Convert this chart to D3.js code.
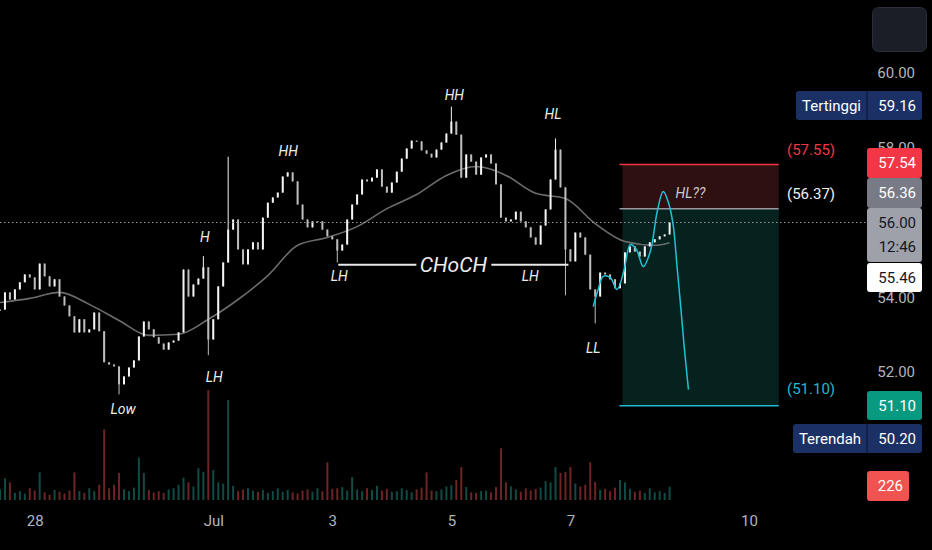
<!DOCTYPE html>
<html>
<head>
<meta charset="utf-8">
<script src="https://cdn.jsdelivr.net/npm/d3@7"></script>
<style>
  html, body { margin: 0; padding: 0; background: #000; }
  svg { display: block; font-family: Roboto, "Noto Sans", sans-serif; }
</style>
</head>
<body>
<div id="chart"></div>
<script>
// 2-hour bars, first bar 27 Jun 10:00
var closes = [
  53.67, 54.13, 53.94, 54.21, 54.40, 54.61, 54.53, 54.21, 54.90, 54.56,
  54.29, 54.48, 54.02, 53.78, 53.49, 53.06, 53.41, 53.06, 53.14, 53.59,
  53.09, 52.26, 52.20, 52.15, 51.67, 51.88, 52.12, 52.31, 52.95, 53.35,
  53.14, 52.93, 52.76, 52.60, 52.79, 52.84, 53.06, 54.74, 54.02, 54.34,
  54.50, 54.80, 52.87, 53.41, 54.29, 54.93, 55.81, 56.08, 55.28, 54.88,
  55.28, 55.47, 55.28, 56.13, 56.53, 56.67, 56.80, 57.23, 57.34, 57.10,
  56.48, 56.08, 55.87, 56.03, 56.03, 55.81, 55.63, 55.55, 55.25, 55.41,
  56.08, 56.48, 56.75, 57.15, 57.10, 57.20, 57.42, 56.96, 56.80, 57.07,
  57.36, 57.71, 57.98, 58.19, 58.17, 57.93, 57.84, 57.74, 57.95, 58.14,
  58.38, 58.70, 58.35, 57.20, 57.82, 57.63, 57.28, 57.74, 57.82, 57.58,
  57.02, 56.13, 56.03, 56.08, 56.29, 56.03, 55.87, 55.60, 55.41, 55.92,
  56.35, 57.15, 57.95, 56.94, 55.28, 54.96, 55.73, 55.60, 55.14, 54.21,
  54.02, 54.66, 54.61, 54.48, 54.24, 54.37, 55.20, 55.36, 55.22, 55.09,
  55.36, 55.47, 55.55, 55.63, 55.68, 56.00
];

var volumes = [
  180, 370, 300, 120, 150, 110, 200, 160, 470, 130,
  90, 170, 140, 110, 160, 470, 150, 120, 200, 150,
  260, 1200, 200, 260, 460, 180, 150, 210, 720, 460,
  170, 130, 150, 120, 180, 200, 260, 380, 300, 230,
  540, 480, 1870, 510, 300, 280, 1700, 240, 150, 180,
  200, 160, 140, 170, 120, 150, 200, 140, 170, 130,
  110, 160, 180, 140, 200, 150, 640, 190, 200, 220,
  160, 390, 180, 150, 200, 170, 240, 160, 190, 140,
  150, 200, 170, 130, 180, 210, 470, 160, 150, 180,
  230, 250, 340, 560, 220, 130, 120, 150, 160, 130,
  220, 880, 300, 230, 180, 140, 200, 160, 190, 210,
  320, 300, 560, 460, 480, 560, 280, 230, 260, 640,
  310, 170, 190, 150, 210, 340, 300, 190, 140, 160,
  120, 200, 130, 150, 120, 226
];

// long wicks [bar, price]
var wickHighs = [[41, 55.10], [46, 57.76], [91, 59.10], [112, 58.25]];
var wickLows = [[24, 51.40], [42, 52.45], [68, 54.93], [114, 54.05], [120, 53.30]];

// moving average, read every 6 bars
var maBars = [0, 6, 12, 18, 24, 30, 36, 42, 48, 54, 60, 66, 72, 78, 84, 90, 96, 102, 108, 114, 120, 126, 132, 135];
var maValues = [53.86, 53.97, 54.13, 53.81, 53.38, 52.98, 53.01, 53.41, 53.94, 54.58, 55.39, 55.60,
  55.89, 56.37, 56.75, 57.26, 57.50, 57.26, 56.78, 56.64, 55.97, 55.49, 55.39, 55.46];

// hand drawn projection
var projBars = [119.6, 120.6, 121.6, 123.0, 124.4, 125.7, 127.1, 128.3, 129.7, 131.1, 132.5, 133.7, 134.7, 135.7, 136.5, 137.2, 138.0, 138.8];
var projPrices = [53.75, 54.21, 54.56, 54.53, 54.21, 54.66, 55.41, 55.28, 54.82, 55.22, 56.29, 56.83, 56.56, 55.95, 54.82, 53.81, 52.60, 51.53];

// short position tool
var stopPrice = 57.55, entryPrice = 56.37, targetPrice = 51.10;
var posFrom = 125.5, posTo = 157;

// structure labels
var annoText = ["Low", "LH", "H", "HH", "LH", "HH", "HL", "LH", "LL"];
var annoBars = [24.8, 43.2, 41.3, 58.1, 68.4, 91.6, 111.5, 106.9, 119.6];
var annoPrices = [51.00, 51.86, 55.60, 57.90, 54.58, 59.40, 58.89, 54.58, 52.63];
var chochLevel = 54.87;
var chochFrom = 68.2, chochTo = 114.6;

var priceTicks = [60, 58, 56, 54, 52];
var timeTicks = [new Date(2024, 5, 28), new Date(2024, 6, 1), new Date(2024, 6, 3),
  new Date(2024, 6, 5), new Date(2024, 6, 7), new Date(2024, 6, 10)];

var lastPrice = 56.00, countdown = "12:46", maLast = 55.46;
var highest = 59.16, lowest = 50.20, lastVolume = 226;

var W = 932, H = 550, plotRight = 868;
var t0 = new Date(2024, 5, 27, 10, 0);
var barMs = 2 * 3600 * 1000;
function barTime(i) { return new Date(t0.getTime() + i * barMs); }

var x = d3.scaleTime().domain([t0, new Date(2024, 6, 12, 0, 0)]).range([0, plotRight]);
var y = d3.scaleLinear().domain([52, 60]).range([372, 73]);
var yVol = d3.scaleLinear().domain([0, 1870]).range([500, 390]);
function xb(i) { return x(barTime(i)); }

var svg = d3.select("#chart").append("svg")
  .attr("width", W).attr("height", H);
svg.append("rect").attr("width", W).attr("height", H).attr("fill", "#000");

var bars = closes.map(function(c, i) {
  var o = i ? closes[i - 1] : c;
  return { i: i, o: o, c: c, h: Math.max(o, c), l: Math.min(o, c), v: volumes[i] };
});
wickHighs.forEach(function(w) { bars[w[0]].h = Math.max(bars[w[0]].h, w[1]); });
wickLows.forEach(function(w) { bars[w[0]].l = Math.min(bars[w[0]].l, w[1]); });

// position box
var bx0 = xb(posFrom), bx1 = xb(posTo);
svg.append("rect").attr("x", bx0).attr("y", y(stopPrice)).attr("width", bx1 - bx0)
  .attr("height", y(entryPrice) - y(stopPrice)).attr("fill", "#2e1011");
svg.append("rect").attr("x", bx0).attr("y", y(entryPrice)).attr("width", bx1 - bx0)
  .attr("height", y(targetPrice) - y(entryPrice)).attr("fill", "#06221f");
svg.append("line").attr("x1", bx0 - 3).attr("x2", bx1).attr("y1", y(stopPrice)).attr("y2", y(stopPrice))
  .attr("stroke", "#f23645").attr("stroke-width", 1.5);
svg.append("line").attr("x1", bx0 - 3).attr("x2", bx1).attr("y1", y(entryPrice)).attr("y2", y(entryPrice))
  .attr("stroke", "#9598a1").attr("stroke-width", 1.5);
svg.append("line").attr("x1", bx0 - 3).attr("x2", bx1).attr("y1", y(targetPrice)).attr("y2", y(targetPrice))
  .attr("stroke", "#22b8cf").attr("stroke-width", 1.5);

// volume
svg.append("g").selectAll("rect").data(bars).enter().append("rect")
  .attr("x", function(d) { return xb(d.i) - 1; })
  .attr("width", 2)
  .attr("y", function(d) { return yVol(d.v); })
  .attr("height", function(d) { return yVol(0) - yVol(d.v); })
  .attr("fill", function(d) { return d.c >= d.o ? "#26a69a" : "#ef5350"; })
  .attr("opacity", 0.45);

// moving average
svg.append("path")
  .datum(maBars.map(function(b, k) { return [b, maValues[k]]; }))
  .attr("fill", "none").attr("stroke", "#6c6c6c").attr("stroke-width", 1.6)
  .attr("d", d3.line().x(function(d) { return xb(d[0]); }).y(function(d) { return y(d[1]); })
    .curve(d3.curveMonotoneX));

// candles
var candle = svg.append("g").selectAll("g").data(bars).enter().append("g");
function candleColor(d) { return d.c >= d.o ? "#f4f4f4" : "#bdbdbd"; }
candle.append("line")
  .attr("x1", function(d) { return xb(d.i); }).attr("x2", function(d) { return xb(d.i); })
  .attr("y1", function(d) { return y(d.h); }).attr("y2", function(d) { return y(d.l); })
  .attr("stroke", candleColor).attr("stroke-width", 1);
candle.append("rect")
  .attr("x", function(d) { return xb(d.i) - 1; })
  .attr("width", 2)
  .attr("y", function(d) { return y(Math.max(d.o, d.c)); })
  .attr("height", function(d) { return Math.max(1, Math.abs(y(d.o) - y(d.c))); })
  .attr("fill", candleColor);

// CHoCH
var chochMid = (xb(chochFrom) + xb(chochTo)) / 2;
svg.append("line").attr("x1", xb(chochFrom)).attr("x2", chochMid - 37)
  .attr("y1", y(chochLevel)).attr("y2", y(chochLevel)).attr("stroke", "#e8e8e8").attr("stroke-width", 2);
svg.append("line").attr("x1", chochMid + 38).attr("x2", xb(chochTo))
  .attr("y1", y(chochLevel)).attr("y2", y(chochLevel)).attr("stroke", "#e8e8e8").attr("stroke-width", 2);
svg.append("text").attr("x", chochMid).attr("y", y(chochLevel))
  .attr("text-anchor", "middle").attr("dominant-baseline", "central")
  .attr("font-size", 21).attr("font-style", "italic").attr("fill", "#ececec").text("CHoCH");

// structure labels
svg.append("g").selectAll("text").data(annoText).enter().append("text")
  .attr("x", function(d, k) { return xb(annoBars[k]); })
  .attr("y", function(d, k) { return y(annoPrices[k]); })
  .attr("text-anchor", "middle").attr("dominant-baseline", "central")
  .attr("font-size", 14).attr("font-style", "italic").attr("fill", "#ececec")
  .text(function(d) { return d; });
svg.append("text").attr("x", xb(139.2)).attr("y", y(56.80))
  .attr("text-anchor", "middle").attr("dominant-baseline", "central")
  .attr("font-size", 14).attr("font-style", "italic").attr("fill", "#c9c9c9").text("HL??");

// projection
svg.append("path")
  .datum(projBars.map(function(b, k) { return [b, projPrices[k]]; }))
  .attr("fill", "none").attr("stroke", "#1fc3d6").attr("stroke-width", 1.5)
  .attr("d", d3.line().x(function(d) { return xb(d[0]); }).y(function(d) { return y(d[1]); })
    .curve(d3.curveCatmullRom));

// last price dotted line
svg.append("line").attr("x1", 0).attr("x2", plotRight)
  .attr("y1", y(lastPrice)).attr("y2", y(lastPrice))
  .attr("stroke", "#9598a1").attr("stroke-width", 1).attr("stroke-dasharray", "1.5,2.5");

// position texts
function posText(p, col, off) {
  svg.append("text").attr("x", 787).attr("y", y(p) - off)
    .attr("dominant-baseline", "central").attr("font-size", 15).attr("fill", col)
    .text("(" + p.toFixed(2) + ")");
}
posText(stopPrice, "#f23645", 15);
posText(entryPrice, "#f0f0f0", 15);
posText(targetPrice, "#22b8cf", 17);

// price axis
var yAxis = svg.append("g").attr("transform", "translate(" + plotRight + ",0)")
  .call(d3.axisRight(y).tickValues(priceTicks).tickSize(0).tickFormat(d3.format(".2f")));
yAxis.select(".domain").remove();
yAxis.selectAll("text").attr("x", 47).attr("text-anchor", "end")
  .attr("font-size", 15).attr("font-family", "Roboto").attr("fill", "#b2b5be");

// time axis
var xAxis = svg.append("g").attr("transform", "translate(0,512)")
  .call(d3.axisBottom(x).tickValues(timeTicks).tickSize(0)
    .tickFormat(function(d) { return d.getDate() === 1 ? "Jul" : d.getDate(); }));
xAxis.select(".domain").remove();
xAxis.selectAll("text").attr("font-size", 15).attr("font-family", "Roboto").attr("fill", "#b2b5be");

// axis tags
function tag(x0, y0, w, h, fill, lines, col) {
  svg.append("rect").attr("x", x0).attr("y", y0).attr("width", w).attr("height", h)
    .attr("rx", 3).attr("fill", fill);
  lines.forEach(function(s, k) {
    svg.append("text").attr("x", x0 + w - 6).attr("y", y0 + 15 + k * 24)
      .attr("text-anchor", "end").attr("dominant-baseline", "central")
      .attr("font-size", 15).attr("fill", col).text(s);
  });
}
tag(867, 148, 55, 30, "#f23645", [ (stopPrice - 0.01).toFixed(2) ], "#fff");
tag(867, 178, 55, 30, "#787b86", [ (entryPrice - 0.01).toFixed(2) ], "#fff");
tag(867, 208, 55, 54, "#9ea1aa", [ lastPrice.toFixed(2), countdown ], "#131722");
tag(867, 263, 55, 29, "#ffffff", [ maLast.toFixed(2) ], "#131722");
tag(867, 391, 55, 29, "#089981", [ targetPrice.toFixed(2) ], "#fff");
tag(867, 471, 42, 30, "#f05350", [ String(lastVolume) ], "#fff");

function hiLo(x0, y0, label, val) {
  svg.append("rect").attr("x", x0).attr("y", y0).attr("width", 922 - x0).attr("height", 29)
    .attr("rx", 3).attr("fill", "#1b3166");
  svg.append("line").attr("x1", 867).attr("x2", 867).attr("y1", y0).attr("y2", y0 + 29)
    .attr("stroke", "#0f1d3f").attr("stroke-width", 1.5);
  svg.append("text").attr("x", (x0 + 867) / 2).attr("y", y0 + 15)
    .attr("text-anchor", "middle").attr("dominant-baseline", "central")
    .attr("font-size", 15).attr("fill", "#fff").text(label);
  svg.append("text").attr("x", 916).attr("y", y0 + 15)
    .attr("text-anchor", "end").attr("dominant-baseline", "central")
    .attr("font-size", 15).attr("fill", "#fff").text(val.toFixed(2));
}
hiLo(796, 91, "Tertinggi", highest);
hiLo(793, 424, "Terendah", lowest);

// top-right button
svg.append("rect").attr("x", 872.5).attr("y", 7.5).attr("width", 54).attr("height", 44)
  .attr("rx", 6).attr("fill", "#1b1e26").attr("stroke", "#2a2e39");
</script>
</body>
</html>
